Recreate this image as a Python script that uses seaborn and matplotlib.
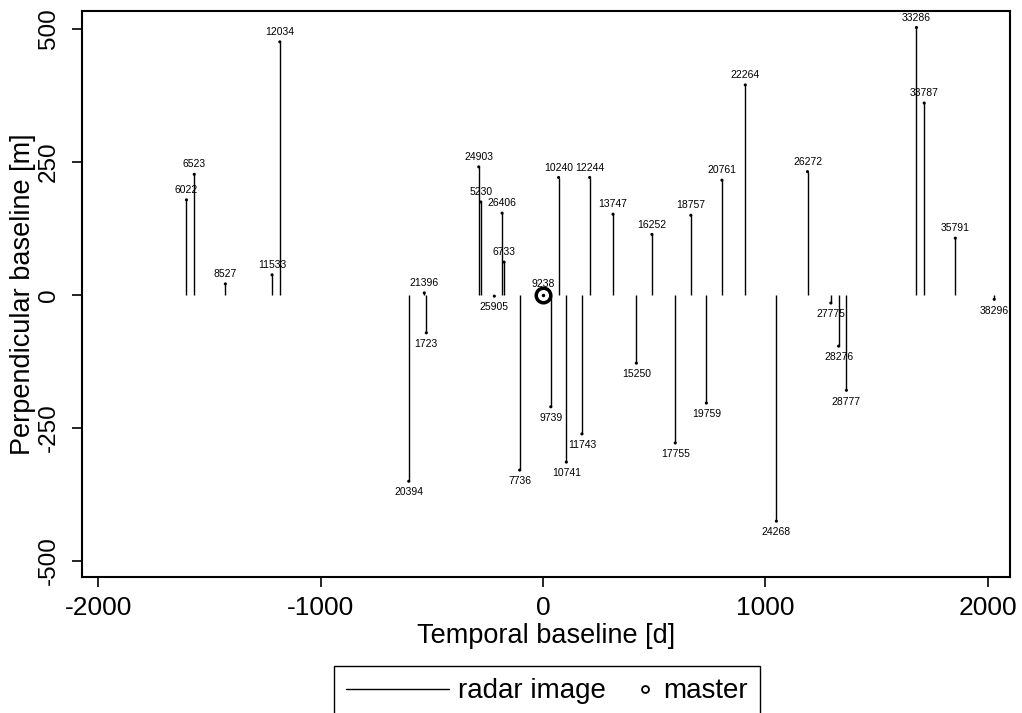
import matplotlib
matplotlib.use("Agg")
import numpy as np
import matplotlib.pyplot as plt
import seaborn as sns
import pandas as pd
from matplotlib.lines import Line2D
from matplotlib.legend_handler import HandlerLine2D

# Radar acquisitions: orbit number, temporal baseline [d], perpendicular baseline [m]
orbits = [6022, 6523, 8527, 11533, 12034, 20394, 21396, 1723, 24903, 5230,
          25905, 26406, 6733, 7736, 9739, 10240, 10741, 11743, 12244, 13747,
          15250, 16252, 17755, 18757, 19759, 20761, 22264, 24268, 26272, 27775,
          28276, 28777, 33286, 33787, 35791, 38296]
temporal = [-1604, -1569, -1429, -1219, -1184, -604, -534, -525, -289, -280,
            -219, -184, -175, -105, 35, 70, 105, 175, 210, 315,
            420, 490, 595, 665, 735, 805, 910, 1050, 1190, 1295,
            1330, 1365, 1680, 1715, 1855, 2030]
perpendicular = [179, 227, 21, 38, 476, -350, 4, -71, 241, 175,
                 -2, 154, 62, -329, -210, 221, -314, -261, 221, 152,
                 -128, 114, -278, 150, -203, 216, 395, -425, 232, -15,
                 -96, -179, 503, 361, 107, -8]

master_orbit = 9238
master_temporal = 0
master_perp = 0

df = pd.DataFrame({"orbit": orbits, "temporal": temporal, "perp": perpendicular})

sns.set_style("ticks")
plt.rcParams["font.family"] = ["Liberation Sans", "DejaVu Sans"]
plt.rcParams["axes.unicode_minus"] = False
for key in ["text.color", "axes.labelcolor", "xtick.color", "ytick.color"]:
    plt.rcParams[key] = "black"


class MarkerAtRight(HandlerLine2D):
    # put the legend marker near the right end of its handle box
    def create_artists(self, legend, orig_handle, xdescent, ydescent, width,
                       height, fontsize, trans):
        artists = super().create_artists(legend, orig_handle, xdescent, ydescent,
                                          width, height, fontsize, trans)
        for a in artists:
            n = len(a.get_xdata())
            a.set_xdata(np.full(n, width - xdescent - 0.35 * fontsize))
        return artists


fig = plt.figure(figsize=(10.22, 7.13), dpi=100)
ax = fig.add_axes([82 / 1022, 1 - 577 / 713, 928 / 1022, 566 / 713])

# Baseline lines from zero to each acquisition
ax.vlines(df["temporal"], 0, df["perp"], color="black", linewidth=1.0)
sns.scatterplot(data=df, x="temporal", y="perp", color="black", s=5,
                edgecolor="none", ax=ax, legend=False)

# Master image
sns.scatterplot(x=[master_temporal], y=[master_perp], marker="o", s=110,
                facecolor="white", edgecolor="black", linewidth=2.5, ax=ax,
                legend=False, zorder=5)
ax.plot(master_temporal, master_perp, "k.", markersize=3, zorder=6)

# Orbit labels
for o, t, p in zip(df["orbit"], df["temporal"], df["perp"]):
    if p >= 0:
        ax.annotate(str(o), (t, p), xytext=(0, 3.5), textcoords="offset points",
                    ha="center", va="bottom", fontsize=7.5)
    else:
        ax.annotate(str(o), (t, p), xytext=(0, -4.5), textcoords="offset points",
                    ha="center", va="top", fontsize=7.5)
ax.annotate(str(master_orbit), (master_temporal, master_perp), xytext=(0, 4.5),
            textcoords="offset points", ha="center", va="bottom", fontsize=7.5)

ax.set_xlim(-2074, 2101)
ax.set_ylim(-530, 534)
ax.set_xticks([-2000, -1000, 0, 1000, 2000])
ax.set_yticks([-500, -250, 0, 250, 500])
ax.tick_params(axis="x", labelsize=19, length=7, width=1.2, pad=7)
ax.tick_params(axis="y", labelsize=17.5, length=7, width=1.2, pad=9)
for lbl in ax.get_yticklabels():
    lbl.set_rotation(90)
    lbl.set_va("center")

for sp in ax.spines.values():
    sp.set_linewidth(1.5)
    sp.set_color("black")

ax.set_xlabel("Temporal baseline [d]", fontsize=19.5, labelpad=2)
ax.set_ylabel("Perpendicular baseline [m]", fontsize=19.5, labelpad=1)

line_handle = Line2D([], [], color="black", linewidth=1.0)
master_handle = Line2D([], [], marker="o", linestyle="none", markersize=5,
                       markerfacecolor="white", markeredgecolor="black",
                       markeredgewidth=1.3)
leg = fig.legend([line_handle, master_handle], ["radar image", "master"],
                 loc="upper center", bbox_to_anchor=(547 / 1022, 1 - 666 / 713),
                 ncol=2, fontsize=20, frameon=True, fancybox=False,
                 edgecolor="black", framealpha=1, handlelength=3.7,
                 handletextpad=0.32, columnspacing=-1.95, borderpad=0.45,
                 borderaxespad=0,
                 handler_map={master_handle: MarkerAtRight()})
leg.get_frame().set_linewidth(1.0)

fig.savefig("out.png", dpi=100)
